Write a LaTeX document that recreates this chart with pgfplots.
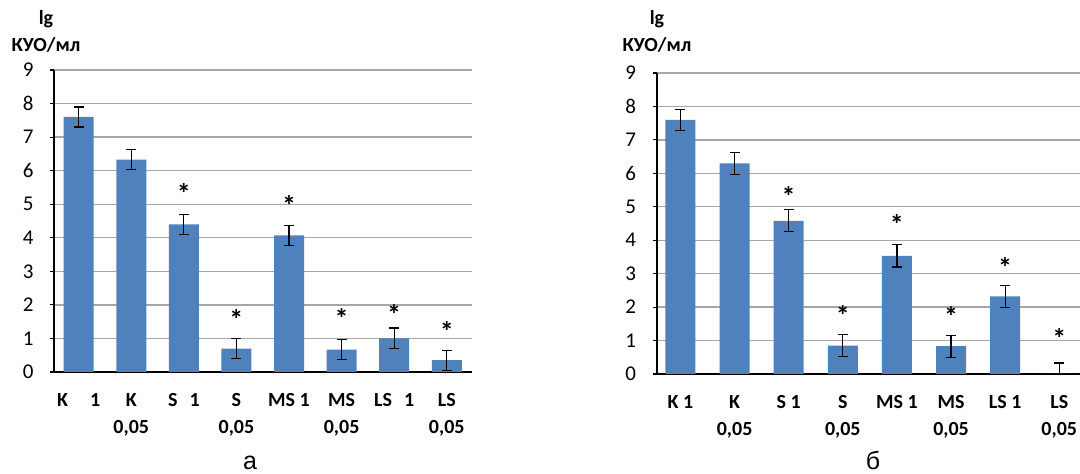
\documentclass[border=0pt]{standalone}
\usepackage{fontspec}
\setmainfont{Carlito}
\newfontfamily\capfont{Liberation Sans}
\usepackage{pgfplots}
\pgfplotsset{compat=1.18}
\definecolor{barblue}{HTML}{4F81BD}
\definecolor{gridgray}{HTML}{A6A6A6}
\pgfplotsset{
  mychart/.style={
    scale only axis,
    anchor=south west,
    ymin=0, ymax=9,
    ytick={0,...,9},
    xtick={0,...,7},
    axis x line*=bottom,
    axis y line*=left,
    axis line style={black, line width=1pt},
    ymajorgrids,
    grid style={gridgray, line width=0.7pt},
    tick align=outside,
    major tick length=2pt,
    xtick style={draw=none},
    ytick style={black, line width=0.6pt},
    /pgf/number format/assume math mode=true,
    yticklabel style={font=\fontsize{10.5}{12}\selectfont, xshift=-5pt},
    xticklabel style={font=\bfseries\fontsize{10}{13.5}\selectfont, align=center, yshift=-5pt},
  },
  mybars/.style={
    ybar, bar width=15pt, fill=barblue, draw=none,
    error bars/.cd, y dir=both, y explicit,
    error bar style={black, line width=0.6pt},
    error mark options={rotate=90, mark size=2.5pt, black, line width=0.6pt},
  },
  mystars/.style={
    draw=none, mark=none,
    nodes near coords={*},
    nodes near coords align={center},
    every node near coord/.append style={font=\bfseries\fontsize{14}{15}\selectfont, black},
  },
}
\begin{document}
\begin{tikzpicture}
\useasboundingbox (0,0) rectangle (540pt,237pt);
% ---------- chart a ----------
\begin{axis}[mychart,
  at={(27.25pt,51pt)}, width=208.75pt, height=151pt,
  xmin=-0.46, xmax=7.48,
  xticklabels={{K\hspace{1.1em}1}, {K\\0,05}, {S\hspace{0.6em}1}, {S\\0,05}, {MS 1}, {MS\\0,05}, {LS\hspace{0.6em}1}, {LS\\0,05}},
]
\addplot[mybars] coordinates {
  (0,7.60) +- (0,0.30)
  (1,6.33) +- (0,0.30)
  (2,4.40) +- (0,0.30)
  (3,0.70) +- (0,0.30)
  (4,4.07) +- (0,0.30)
  (5,0.67) +- (0,0.30)
  (6,1.00) +- (0,0.31)
  (7,0.35) +- (0,0.30)
};
\addplot[mystars] coordinates {
  (2,5.33) (3,1.55) (4,4.95) (5,1.60) (6,1.72) (7,1.22)
};
\end{axis}
% ---------- chart b ----------
\begin{axis}[mychart,
  at={(328.5pt,50pt)}, width=212.5pt, height=150.5pt,
  xmin=-0.434, xmax=7.42,
  xticklabels={{K 1}, {K\\0,05}, {S 1}, {S\\0,05}, {MS 1}, {MS\\0,05}, {LS 1}, {LS\\0,05}},
]
\addplot[mybars] coordinates {
  (0,7.60) +- (0,0.32)
  (1,6.30) +- (0,0.33)
  (2,4.58) +- (0,0.33)
  (3,0.85) +- (0,0.33)
  (4,3.53) +- (0,0.33)
  (5,0.83) +- (0,0.33)
  (6,2.32) +- (0,0.33)
  (7,0.00) +- (0,0.33)
};
\addplot[mystars] coordinates {
  (2,5.32) (3,1.75) (4,4.47) (5,1.72) (6,3.17) (7,1.07)
};
\end{axis}
% ---------- titles ----------
\node[anchor=base, font=\bfseries\fontsize{10}{11}\selectfont, inner sep=0] at (23pt,224.5pt) {lg};
\node[anchor=base, font=\bfseries\fontsize{10}{11}\selectfont, inner sep=0] at (23pt,211pt) {КУО/мл};
\node[anchor=base, font=\bfseries\fontsize{10}{11}\selectfont, inner sep=0] at (328.5pt,224.5pt) {lg};
\node[anchor=base, font=\bfseries\fontsize{10}{11}\selectfont, inner sep=0] at (328.5pt,211pt) {КУО/мл};
% ---------- captions ----------
\node[anchor=base, font=\capfont\fontsize{12.5}{14}\selectfont, inner sep=0] at (125pt,2pt) {а};
\node[anchor=base, font=\capfont\fontsize{12.5}{14}\selectfont, inner sep=0] at (436.5pt,2pt) {б};
\end{tikzpicture}
\end{document}
